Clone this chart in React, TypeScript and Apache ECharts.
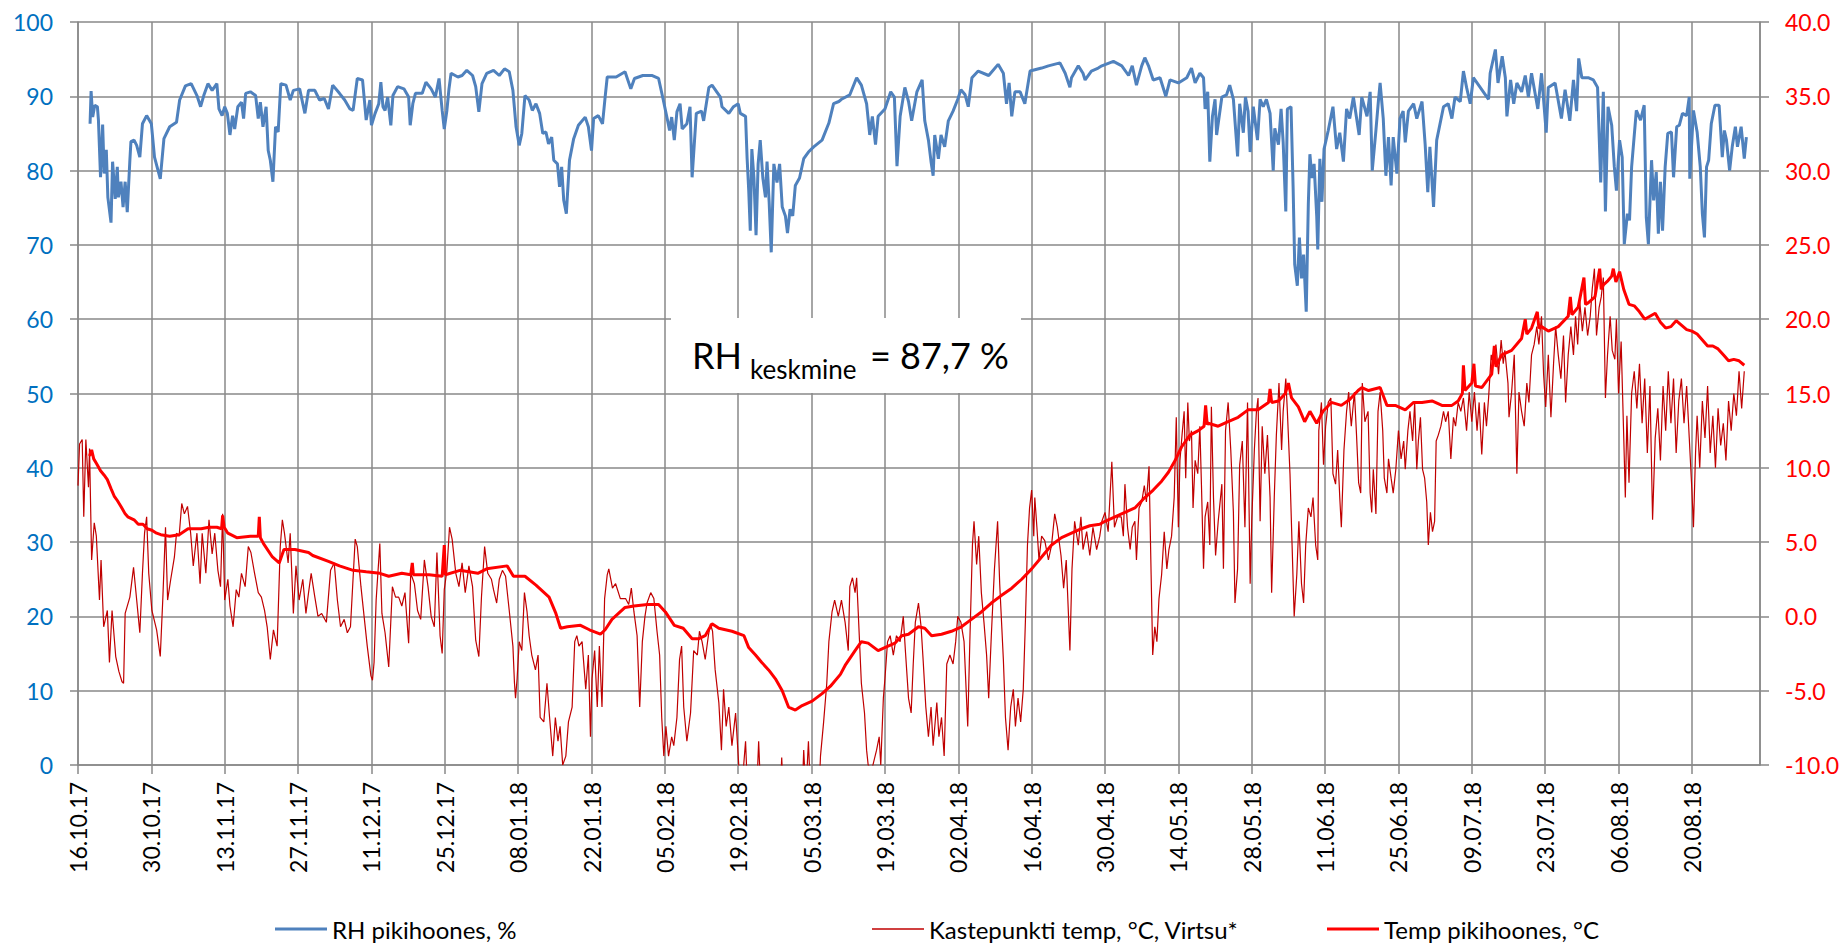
import React, { useEffect, useRef } from 'react';
import * as echarts from 'echarts';

// x values are days counted from 16.10.2017
const xTickLabels = ['16.10.17','30.10.17','13.11.17','27.11.17','11.12.17','25.12.17','08.01.18','22.01.18','05.02.18','19.02.18','05.03.18','19.03.18','02.04.18','16.04.18','30.04.18','14.05.18','28.05.18','11.06.18','25.06.18','09.07.18','23.07.18','06.08.18','20.08.18'];
const X_TICK_STEP_DAYS = 14;
const X_LAST_DAY = 321;

const rhName = 'RH pikihoones, %';
const dewName = 'Kastepunkti temp, °C, Virtsu*';
const tempName = 'Temp pikihoones, °C';

const rhData: number[][] = [
[2.3,86.3],[2.5,90.7],[2.8,87.2],[3.2,88.8],[3.7,88.6],[3.9,86.8],[4.3,79.1],[4.7,86.2],[5.0,79.6],[5.4,82.8],[5.7,76.4],[6.3,73.0],[6.6,81.2],[7.1,76.2],[7.5,80.5],[7.7,76.4],[8.2,78.5],[8.6,75.1],[9.0,78.5],[9.4,74.4],[9.9,81.4],[10.1,83.9],[10.7,84.1],[11.2,83.4],[11.8,81.8],[12.3,86.3],[13.1,87.4],[14.0,86.3],[14.6,81.8],[15.7,78.9],[16.4,84.3],[17.5,85.9],[18.8,86.5],[19.4,89.5],[20.5,91.4],[21.6,91.7],[22.7,90.1],[23.4,88.6],[24.0,90.1],[24.8,91.7],[25.6,90.8],[26.5,91.7],[26.9,88.3],[27.5,87.4],[28.0,88.6],[28.5,87.7],[29.0,84.8],[29.5,87.4],[29.9,85.6],[30.5,88.6],[31.2,89.2],[31.6,87.0],[32.0,90.4],[32.9,90.6],[33.9,90.1],[34.4,87.0],[34.8,89.2],[35.3,85.9],[35.9,88.6],[36.3,82.7],[36.7,81.4],[37.2,78.5],[37.7,85.9],[38.2,85.2],[38.7,91.7],[39.7,91.5],[40.5,89.5],[41.1,90.8],[42.3,91.0],[43.3,87.7],[44.0,90.8],[45.2,90.8],[46.1,89.5],[47.0,89.7],[47.8,88.3],[48.6,91.5],[49.9,90.4],[50.9,89.5],[51.9,88.3],[52.5,88.1],[53.3,92.4],[54.3,92.2],[55.0,86.8],[55.7,89.5],[56.0,86.1],[56.7,87.7],[57.4,89.0],[57.8,91.9],[58.2,88.6],[58.6,88.1],[59.1,89.9],[59.7,86.1],[60.1,90.1],[61.0,91.3],[62.2,91.0],[63.1,89.9],[63.4,86.1],[63.9,89.0],[64.4,90.4],[65.7,90.4],[66.4,91.9],[67.4,91.0],[68.2,89.9],[68.9,92.4],[69.5,88.1],[69.9,85.6],[70.4,88.1],[70.8,91.0],[71.2,93.1],[72.5,92.6],[73.3,92.8],[74.2,93.5],[75.3,92.8],[75.9,91.3],[76.5,87.9],[77.1,91.7],[78.0,93.1],[79.3,93.5],[80.4,92.8],[81.4,93.7],[82.3,93.3],[83.0,90.8],[83.6,85.9],[84.2,83.4],[84.7,85.0],[85.3,90.1],[86.1,89.5],[86.7,88.1],[87.4,89.0],[88.1,87.7],[88.7,85.0],[89.3,85.2],[89.8,83.6],[90.4,84.5],[90.8,81.4],[91.5,80.9],[91.9,77.8],[92.3,80.5],[92.7,76.0],[93.2,74.2],[93.8,81.4],[94.6,84.3],[95.5,86.1],[96.8,87.2],[97.4,85.9],[98.0,82.7],[98.4,87.0],[99.3,87.4],[100.1,86.3],[100.6,89.9],[101.0,92.6],[102.7,92.6],[104.4,93.3],[105.5,91.0],[106.2,92.4],[107.8,92.8],[109.5,92.8],[110.8,92.4],[111.7,89.5],[112.5,86.8],[112.9,85.4],[113.3,87.2],[113.8,84.1],[114.3,87.9],[114.9,89.0],[115.3,85.6],[116.2,86.3],[116.8,88.6],[117.2,79.1],[118.0,87.7],
[119.0,88.0],[119.4,86.7],[120.4,91.2],[121.0,91.5],[122.6,89.9],[122.9,88.6],[124.2,87.7],[125.1,88.6],[126.0,89.0],[126.4,87.7],[127.4,87.3],[127.7,81.6],[128.0,77.4],[128.3,71.9],[128.6,82.9],[129.0,79.0],[129.4,71.3],[129.8,80.9],[130.2,84.1],[130.7,79.0],[131.2,76.4],[131.5,81.2],[131.9,75.8],[132.3,69.0],[132.8,80.9],[133.4,78.4],[133.9,80.9],[134.4,75.1],[135.0,73.9],[135.4,71.6],[135.9,74.8],[136.4,73.9],[136.9,78.0],[137.7,79.0],[138.5,81.6],[139.4,82.5],[140.4,83.2],[142.0,84.1],[143.3,86.4],[144.2,89.0],[145.2,89.3],
[145.7,89.6],[147.3,90.2],[148.6,92.5],[149.5,91.5],[150.5,89.0],[151.1,84.8],[151.6,87.3],[152.2,83.5],[152.7,87.3],[154.0,88.3],[155.1,90.6],[155.8,89.9],[156.3,80.6],[156.9,87.3],[157.8,91.2],[158.5,89.3],[159.1,86.7],[160.1,90.6],[161.1,92.2],[161.6,86.7],[162.3,84.1],[162.8,81.2],[163.2,79.3],[163.5,84.8],[164.2,81.6],[164.7,84.8],[165.4,83.2],[166.1,86.7],[167.0,88.0],[167.9,89.6],[168.5,90.9],[169.3,90.2],[169.9,88.6],[170.6,92.5],[171.8,93.4],[173.8,92.8],[175.6,94.3],[176.6,93.1],[177.2,89.0],[177.7,91.8],[178.2,87.3],[178.8,90.6],[179.8,90.6],[180.7,89.0],[181.7,93.4],[183.9,93.8],[185.2,94.1],[187.4,94.5],[188.4,93.1],[189.3,91.2],[189.6,92.5],[190.9,94.1],[191.8,93.1],[192.2,92.2],[193.4,93.4],[194.7,93.8],
[195.4,94.1],[197.6,94.7],[199.2,94.1],[200.5,92.8],[201.2,94.1],[202.0,91.5],[203.0,94.1],[203.6,95.2],[204.3,94.1],[205.2,92.2],[206.5,92.5],[207.6,90.0],[208.4,92.2],[210.0,91.8],[211.6,92.5],[212.5,93.8],[213.2,91.8],[214.1,93.1],[214.8,92.5],[215.1,88.3],[215.6,90.6],[216.0,81.2],[216.5,87.3],[217.0,89.6],[217.3,84.8],[218.3,89.9],[219.2,90.2],[219.8,91.5],[220.5,89.6],[221.3,81.9],[221.7,89.0],[222.4,85.1],[222.8,89.9],[223.3,88.0],[223.7,82.5],[224.3,88.6],[225.1,84.1],[225.6,89.6],[226.2,88.6],[226.8,89.6],[227.5,87.7],[228.1,80.0],[228.4,85.7],[229.1,83.5],[229.6,88.3],[230.0,83.8],[230.5,74.5],[230.8,88.3],[231.5,88.6],[231.9,77.7],[232.2,67.4],[232.7,64.5],[233.1,71.0],[233.5,65.5],[233.9,68.7],[234.4,61.0],[234.8,75.5],[235.1,82.2],[235.5,79.0],[235.9,80.9],[236.4,73.9],[236.6,69.4],[237.0,81.6],[237.4,75.8],[237.8,82.9],[238.6,85.4],[239.5,88.6],[240.2,82.9],[240.8,85.1],[241.5,81.2],[242.1,88.3],[242.7,87.0],[243.4,89.9],
[244.5,84.8],[245.0,89.9],[246.0,87.3],[246.6,90.6],[247.0,80.0],[247.7,85.4],[248.2,89.6],[248.5,91.8],[249.1,87.0],[249.6,79.3],[250.1,84.5],[250.6,78.0],[251.0,84.5],[251.7,79.6],[252.3,87.0],[252.9,88.0],[253.3,83.8],[253.9,88.0],[254.9,89.0],[255.5,87.0],[256.5,89.3],[257.1,83.5],[257.6,77.1],[258.0,83.2],[258.7,75.1],[259.3,84.1],[260.6,88.6],[261.5,89.0],[262.2,87.0],[262.8,89.9],[263.8,89.3],[264.4,93.4],[265.0,91.2],[265.7,89.0],[266.3,92.5],[267.6,91.2],[269.2,89.6],[269.5,93.1],[270.5,96.3],[271.0,91.8],[271.8,95.4],[272.4,92.5],[272.7,87.3],[273.4,92.2],[274.0,89.0],[274.6,91.8],[275.5,90.6],[276.2,92.8],[276.8,89.9],[277.4,93.1],[278.6,88.3],[279.3,93.1],[280.2,85.1],[280.6,91.2],[281.9,91.8],[283.1,87.0],[283.8,90.9],[284.7,86.7],[285.4,92.2],[286.0,88.0],[286.4,95.1],[287.0,92.5],[288.2,92.5],[289.2,92.2],[290.0,91.2],[290.6,78.4],[291.1,90.6],[291.5,74.5],[292.0,88.6],[292.7,86.1],
[293.2,80.5],[293.6,77.3],[294.2,84.1],[294.7,81.8],[295.1,70.1],[295.7,74.2],[296.1,73.3],[296.5,80.5],[297.4,88.1],[298.2,86.8],[298.9,88.8],[299.3,73.7],[299.7,70.1],[300.3,81.4],[300.7,76.0],[301.2,79.8],[301.6,71.5],[302.0,78.5],[302.4,71.9],[302.9,80.5],[303.4,85.0],[304.1,85.2],[304.5,79.1],[305.1,85.9],[305.6,86.1],[306.2,87.7],[307.0,87.4],[307.5,89.9],[307.6,78.9],[308.3,88.1],[309.0,85.2],[309.6,80.5],[310.0,74.2],[310.4,71.0],[310.8,80.5],[311.2,81.4],[311.7,86.3],[312.4,88.8],[313.2,88.8],[313.8,81.8],[314.2,85.4],[314.6,84.1],[315.2,80.0],[315.7,83.2],[316.3,85.9],[316.7,83.2],[317.4,85.9],[318.0,81.6],[318.4,84.5]
];

const dewData: number[][] = [
[0.0,8.8],[0.3,11.6],[0.8,11.9],[1.1,6.7],[1.5,11.9],[2.0,8.7],[2.2,11.3],[2.6,3.8],[3.1,6.3],[3.5,5.4],[4.1,1.1],[4.4,3.8],[4.9,-0.7],[5.6,0.4],[6.0,-3.1],[6.5,0.4],[7.2,-2.7],[7.8,-3.7],[8.4,-4.4],[8.7,-4.5],[9.0,0.2],[9.9,1.3],[10.6,3.3],[11.2,1.1],[11.8,-1.1],[12.3,2.9],[12.7,5.6],[13.1,6.7],[13.5,2.9],[14.1,0.4],[15.0,-0.9],[15.7,-2.7],[16.2,1.3],[16.7,6.0],[17.1,1.1],[17.7,2.5],[18.4,4.0],[18.8,5.6],[19.3,5.4],[19.8,7.6],[20.3,6.9],[20.9,7.4],[21.5,5.6],[22.0,3.4],[22.7,5.6],[23.3,2.2],[23.7,5.6],[24.4,2.9],[25.0,6.5],[25.6,4.2],[26.1,5.6],[26.7,3.1],[27.2,2.0],[27.6,6.9],[28.0,1.1],[28.6,2.5],[29.0,0.7],[29.6,-0.7],[30.2,1.8],[30.7,1.3],[31.2,2.9],[31.9,2.0],[32.5,4.7],[33.0,4.3],[33.7,2.9],[34.4,1.6],[35.0,1.3],[35.6,0.4],[36.1,-0.7],[36.7,-2.9],[37.3,-0.9],[38.0,-2.0],[38.6,4.7],[39.0,6.5],[39.4,5.6],[40.1,3.6],[40.5,5.6],[41.1,0.2],[41.6,3.4],[42.2,1.1],[42.9,2.5],[43.5,0.2],[44.0,1.6],[44.5,2.9],[45.2,1.3],[45.8,0.0],[46.5,0.2],[47.4,-0.4],[48.2,3.1],[48.9,3.6],[49.5,1.1],[50.1,-0.7],[50.8,-0.2],[51.4,-1.1],[52.0,-0.7],[52.9,5.2],[53.3,4.7],[54.0,2.0],[54.6,0.0],[55.2,-2.0],[55.9,-4.0],[56.2,-4.3],[56.5,-3.1],[56.9,1.1],[57.6,4.9],[58.0,0.2],[58.6,-1.1],[59.3,-3.4],[60.0,2.0],[60.6,1.3],[61.2,1.3],[61.8,0.7],[62.4,1.6],[63.1,-1.8],[63.5,2.9],[64.2,2.2],[64.8,0.4],[65.4,-0.2],[66.1,3.8],[66.8,2.0],[67.4,0.0],[68.0,-0.7],[68.5,4.3],[69.1,-1.3],[69.5,-2.5],[69.9,1.8],[70.4,3.1],[70.9,6.0],[71.4,5.2],[72.1,2.9],[72.7,2.0],[73.3,3.6],[73.9,1.6],[74.6,3.4],[75.3,2.0],[75.9,-1.6],[76.5,-2.7],[77.0,1.3],[77.6,4.7],[78.2,2.9],[78.9,2.5],[79.3,1.8],[79.9,0.9],[80.4,2.5],[81.0,3.1],[81.6,2.7],[82.3,0.4],[83.0,-2.0],[83.3,-4.5],[83.5,-5.5],[83.8,-4.2],[84.2,-1.7],[84.7,-2.3],[85.2,1.6],[85.7,0.3],[86.1,-1.3],[86.6,-2.6],[87.3,-3.6],[87.8,-2.6],[88.2,-6.8],[88.9,-7.1],[89.5,-4.5],[90.0,-6.8],[90.6,-9.4],[91.1,-6.8],[91.6,-8.4],[92.0,-7.4],[92.5,-10.0],[93.1,-9.4],[93.6,-7.1],[94.3,-6.1],[94.8,-1.7],[95.2,-1.3],[95.6,-2.0],[96.2,-1.7],[96.9,-4.9],[97.4,-2.6],[97.8,-8.1],[98.1,-4.2],[98.6,-2.3],[99.1,-6.1],[99.5,-2.0],[100.0,-6.1],[100.5,1.2],[101.0,2.8],[101.3,3.2],[102.0,1.9],[102.6,2.2],[103.5,1.2],[104.5,1.2],[105.1,0.8],[105.6,1.9],[106.1,0.3],[106.7,-1.3],[107.2,-6.1],[107.7,-1.7],[108.2,0.0],[108.6,0.9],[109.3,1.6],[109.9,1.2],[110.5,-1.0],[111.0,-2.6],[111.4,-6.8],[111.8,-9.4],[112.2,-7.4],[112.7,-9.4],[113.3,-8.1],[113.7,-8.7],[114.3,-6.8],[114.8,-2.9],[115.2,-2.0],[115.6,-6.1],[116.2,-8.4],[116.9,-6.5],[117.5,-2.3],[118.2,-2.6],[118.6,-1.0],[119.1,-1.7],[119.7,-2.9],[120.3,-1.3],[120.7,-0.5],[121.1,-1.0],[121.6,-3.6],[122.3,-5.8],[122.8,-9.0],[123.2,-4.9],[123.7,-7.4],[124.2,-6.1],[124.8,-8.7],[125.5,-6.5],[126.1,-10.0],[126.6,-12],[127.4,-8.4],[127.8,-12],[129.5,-12],[129.9,-8.4],[130.3,-12],[134.0,-12],[134.3,-9.5],[134.6,-12],[138.2,-12],[138.5,-9.0],[138.9,-12],[139.4,-8.4],[139.8,-12],[141.4,-12],[141.7,-9.4],[142.3,-7.1],[142.9,-4.5],[143.3,-1.7],[143.9,0.3],[144.4,1.1],[145.1,0.0],[145.7,1.1],[146.4,-0.4],[147.0,-2.3],[147.3,2.0],[147.8,2.6],[148.3,1.6],[148.6,2.6],[148.9,0.3],[149.5,-4.5],[150.1,-6.5],[150.5,-9.0],[150.8,-10.0],[151.5,-10.3],[152.4,-9.0],[152.9,-8.1],[153.2,-10.0],[153.7,-5.5],[154.0,-4.2],[154.5,-1.7],[155.0,-1.3],[155.6,-2.6],[156.2,-1.3],[156.9,-1.7],[157.5,0.0],[157.9,-2.3],[158.5,-5.5],[159.0,-6.5],[159.4,-3.2],[159.8,-0.4],[160.4,0.9],[160.9,-0.7],[161.3,-3.0],[161.8,-6.1],[162.3,-8.1],[162.8,-6.1],[163.2,-8.7],[163.9,-5.8],[164.3,-8.1],[164.8,-6.8],[165.3,-9.4],[165.8,-3.2],[166.4,-2.6],[167.0,-3.2],[167.5,-1.7],[167.9,0.0],[168.5,-0.4],[169.1,-1.7],[169.8,-7.4],[170.2,-1.7],[170.7,4.8],[171.0,6.4],[171.5,3.5],[171.9,5.4],[172.4,1.6],[172.9,-0.4],[173.4,-2.6],[173.8,-5.5],[174.3,-1.3],[174.9,3.2],[175.5,6.4],[175.9,2.2],[176.6,-2.9],[177.0,-6.8],[177.5,-9.0],[178.0,-6.1],[178.5,-4.9],[178.9,-7.4],[179.4,-5.5],[179.9,-7.1],[180.4,-4.9],[180.8,-0.4],[181.2,4.8],[181.6,7.3],[182.0,8.5],[182.4,5.4],[182.6,8.0],[183.0,6.0],[183.4,3.8],[183.9,5.4],[184.5,5.1],[185.2,3.8],[185.8,4.8],[186.4,6.9],[186.9,6.0],[187.6,4.1],[188.1,1.9],[188.6,3.8],[189.3,-2.3],[189.7,3.2],[190.2,6.4],[190.9,4.8],[191.4,6.7],[191.8,4.5],[192.5,5.7],[193.1,4.1],[193.7,6.0],[194.4,4.5],[195.0,5.4],[195.4,6.4],[196.0,7.0],[196.6,5.7],[197.3,10.4],[197.8,6.0],[198.4,6.7],[199.1,6.7],[199.5,5.4],[199.8,8.9],[200.3,6.0],[200.8,4.5],[201.2,6.0],[201.7,6.4],[202.0,3.8],[202.5,7.3],[203.0,7.7],[203.5,8.8],[203.9,7.7],[204.4,10.1],[204.8,2.8],[205.1,-2.6],[205.5,-0.7],[205.9,-1.7],[206.3,1.2],[206.8,2.8],[207.3,5.7],[207.8,3.2],[208.2,4.5],[208.7,5.4],[209.2,8.0],[209.6,13.4],[210.0,6.0],[210.3,10.5],[210.7,12.2],[211.1,13.8],[211.4,9.3],[211.8,14.4],[212.1,11.8],[212.5,12.5],[212.8,7.3],[213.2,10.5],[213.7,9.6],[214.1,12.8],[214.4,8.9],[214.8,3.2],[215.1,6.7],[215.6,7.7],[216.0,4.8],[216.3,14.1],[216.7,8.0],[217.1,4.1],[217.6,6.4],[218.3,8.9],[218.6,3.2],[219.0,12.5],[219.5,14.4],[220.0,11.2],[220.5,7.0],[220.8,0.9],[221.3,3.2],[221.7,10.2],[222.2,11.8],[222.7,6.0],[223.2,14.4],[223.7,2.2],[224.0,6.4],[224.5,11.2],[224.9,13.8],[225.2,14.7],[225.6,6.4],[226.0,12.8],[226.5,9.6],[227.0,12.2],[227.5,8.0],[227.8,1.6],[228.3,8.0],[228.7,12.2],[229.2,15.7],[229.7,11.2],[230.0,13.8],[230.5,16.0],[230.8,13.8],[231.3,9.6],[231.7,4.8],[232.1,0.0],[232.6,2.8],[233.0,6.4],[233.5,2.2],[233.9,0.9],[234.3,4.8],[234.8,7.3],[235.3,6.7],[235.7,8.0],[236.2,4.8],[236.6,3.8],[236.8,12.5],[237.3,14.4],[237.7,10.2],[238.1,12.8],[238.6,14.4],[239.1,14.7],[239.5,9.6],[240.0,8.9],[240.4,11.2],[240.8,8.0],[241.1,6.0],[241.6,11.2],[242.1,13.8],[242.5,15.1],[243.0,12.8],[243.6,15.1],[244.0,12.2],[244.4,9.0],[244.8,8.3],[245.1,15.7],[245.6,13.1],[246.2,13.8],[246.6,8.3],[246.9,7.0],[247.2,9.9],[247.7,6.9],[248.1,13.8],[248.5,15.1],[249.0,12.5],[249.3,9.3],[249.8,8.3],[250.1,10.6],[250.6,9.3],[251.0,8.3],[251.5,9.9],[252.0,12.5],[252.5,10.6],[253.0,11.8],[253.3,9.9],[253.8,12.5],[254.2,13.8],[254.7,11.8],[255.1,14.4],[255.5,9.9],[255.8,11.8],[256.2,13.4],[256.6,9.9],[257.0,9.3],[257.4,7.7],[257.7,4.8],[258.1,7.0],[258.5,5.7],[258.9,6.4],[259.2,11.8],[259.6,12.2],[260.1,12.8],[260.6,13.8],[261.0,13.1],[261.5,13.8],[262.0,10.6],[262.5,13.4],[262.9,12.8],[263.4,14.4],[263.9,13.8],[264.4,14.7],[265.0,12.5],[265.5,15.1],[266.0,13.1],[266.5,15.1],[267.0,12.5],[267.4,14.4],[267.9,10.9],[268.4,14.4],[268.8,12.8],[269.2,14.7],[269.7,17.6],[270.1,17.0],[270.6,18.3],[271.1,16.3],[271.6,18.6],[272.0,17.0],[272.3,17.9],[272.9,15.7],[273.1,13.4],[273.6,15.1],[274.1,17.6],[274.6,9.6],[275.0,15.1],[275.5,13.8],[276.0,12.8],[276.5,15.7],[276.9,14.4],[277.4,17.6],[277.9,18.3],[278.4,19.5],[278.8,18.3],[279.3,20.2],[279.7,16.3],[280.1,14.1],[280.6,17.6],[281.1,13.4],[281.6,17.0],[282.0,19.5],[282.5,17.6],[283.0,16.0],[283.5,18.9],[283.9,14.4],[284.4,17.6],[284.9,19.5],[285.4,17.6],[285.8,20.2],[286.2,18.3],[286.6,21.2],[287.1,19.2],[287.6,20.8],[288.1,18.9],[288.6,20.2],[289.0,22.1],[289.4,23.4],[289.8,18.9],[290.3,20.8],[290.7,21.5],[291.1,22.8],[291.5,14.7],[291.9,17.6],[292.4,20.2],[292.8,17.9],[293.3,17.3],
[293.6,20.0],[294.0,15.0],[294.5,18.5],[295.0,12.0],[295.3,8.0],[295.6,13.5],[296.0,9.0],[296.5,15.0],[297.0,16.5],[297.5,14.0],[298.0,17.0],[298.5,13.0],[299.0,16.0],[299.5,11.0],[300.0,15.5],[300.5,6.5],[301.0,12.0],[301.5,14.0],[302.0,10.5],[302.5,15.5],[303.0,12.5],[303.5,16.5],[304.0,13.0],[304.5,16.0],[305.0,11.0],[305.5,14.5],[306.0,16.0],[306.5,13.0],[307.0,15.5],[307.5,12.0],[308.0,8.5],[308.3,6.0],[308.7,11.0],[309.0,13.5],[309.5,10.0],[310.0,14.5],[310.5,12.0],[311.0,15.5],[311.5,11.0],[312.0,13.5],[312.5,10.0],[313.0,14.0],[313.5,11.5],[314.0,13.0],[314.5,10.5],[315.0,14.5],[315.5,12.5],[316.0,15.0],[316.5,13.5],[317.0,16.5],[317.5,14.0],[318.0,16.5]
];

const tempData: number[][] = [
[2.2,10.8],[2.6,11.2],[3.0,10.6],[3.5,10.3],[4.3,9.8],[5.0,9.5],[5.6,9.2],[6.3,8.6],[6.9,8.1],[7.5,7.8],[8.2,7.4],[9.0,6.9],[9.5,6.7],[10.7,6.5],[11.5,6.2],[12.4,6.2],[13.2,5.9],[14.1,5.8],[15.0,5.6],[15.8,5.5],[17.5,5.4],[19.3,5.5],[21.0,5.9],[22.5,5.9],[23.5,5.9],[25.0,6.0],[26.5,6.0],[27.4,5.9],[27.6,6.8],[27.9,6.0],[28.6,5.6],[30.3,5.3],[32.9,5.4],[34.4,5.4],[34.6,6.7],[34.8,5.3],[35.4,4.9],[37.1,4.0],[38.4,3.6],[39.3,4.5],[41.4,4.5],[44.0,4.3],[44.8,4.1],[47.8,3.7],[49.9,3.4],[52.5,3.1],[55.0,3.0],[57.6,2.9],[59.3,2.7],[61.8,2.9],[63.5,2.8],[63.8,3.6],[64.0,2.8],[67.0,2.8],[69.5,2.7],[69.9,4.8],[70.1,2.8],[72.9,3.1],[76.3,2.9],[78.0,3.2],[81.9,3.4],[83.1,2.7],[85.3,2.7],[87.4,2.1],[89.9,1.3],[91.2,0.2],[92.1,-0.8],[93.4,-0.7],[95.9,-0.6],[97.6,-0.9],[99.7,-1.2],[100.6,-0.9],[101.9,-0.2],[104.4,0.6],[106.1,0.7],[108.7,0.8],[110.8,0.8],[112.1,0.3],[113.8,-0.6],[115.5,-0.8],[117.2,-1.5],[118.5,-1.5],[119.7,-1.3],[121.0,-0.5],[122.3,-0.8],[124.8,-1.0],[127.1,-1.3],[128.0,-2.1],[129.3,-2.6],[130.5,-3.1],[131.8,-3.6],[133.1,-4.2],[134.4,-5.0],[135.6,-6.1],[136.9,-6.3],[138.2,-6.0],[140.1,-5.7],[142.0,-5.2],[143.6,-4.7],[145.5,-3.9],[146.4,-3.3],[148.3,-2.3],[149.5,-1.7],[150.8,-1.8],[152.7,-2.3],[154.6,-2.0],[155.9,-1.8],[157.2,-1.3],[158.5,-1.2],[160.4,-0.7],[161.6,-0.8],[162.9,-1.3],[164.8,-1.2],[166.7,-1.0],[168.6,-0.7],[170.5,-0.2],[172.4,0.3],[174.3,0.9],[176.2,1.4],[178.2,1.9],[180.1,2.5],[182.0,3.2],[183.9,4.0],[185.8,4.8],[187.7,5.3],[189.6,5.6],[191.5,5.9],[193.1,6.1],[195.0,6.2],[196.0,6.4],[197.9,6.7],[199.8,7.0],[201.7,7.3],[203.6,8.0],[205.2,8.5],[206.8,9.1],[208.1,9.7],[209.4,10.5],[210.6,11.4],[212.2,12.2],[213.8,12.5],[214.9,12.8],[215.2,14.2],[215.5,12.9],[215.7,13.0],[217.6,12.8],[219.5,13.1],[221.4,13.4],[223.3,13.9],[225.2,13.9],[227.2,14.4],[227.5,15.3],[227.8,14.4],[229.1,14.5],[230.4,15.0],[231.0,15.7],[231.6,14.7],[232.9,14.1],[234.1,13.1],[235.1,13.8],[236.4,13.0],[237.6,13.8],[239.2,14.4],[241.1,14.2],[242.7,14.6],[244.3,15.2],[245.0,15.4],[246.3,15.2],[248.5,15.4],[249.8,14.2],[251.4,14.2],[253.3,13.9],[254.9,14.4],[256.5,14.4],[258.4,14.5],[260.3,14.2],[262.2,14.2],[263.4,14.5],[264.2,15.0],[264.4,16.9],[264.7,15.2],[266.0,15.7],[266.4,17.0],[266.7,15.5],[267.9,15.4],[269.8,16.3],[270.3,18.2],[270.6,16.8],[271.7,17.6],[273.6,17.9],[275.5,18.7],[276.2,20.0],[276.5,19.0],[277.4,19.4],[278.5,20.5],[278.8,19.4],[279.3,19.5],[280.6,19.2],[282.5,19.5],[284.4,20.2],[284.8,21.5],[285.1,20.3],[286.3,20.8],[287.4,22.8],[287.7,21.0],[288.2,21.1],[289.5,21.5],[290.4,23.4],[290.7,22.0],[291.1,22.3],[292.0,22.6],[292.7,22.9],[293.0,23.4],[293.5,22.5],[294.2,23.2],[295.0,22.0],[296.0,21.0],[297.0,20.9],[298.0,20.5],[299.0,20.0],[300.0,20.2],[301.0,20.4],[302.0,19.8],[303.0,19.4],[304.0,19.5],[305.0,19.9],[306.0,19.6],[307.0,19.3],[308.0,19.2],[309.0,19.0],[310.0,18.6],[311.0,18.2],[312.0,18.2],[313.0,18.0],[314.0,17.6],[315.0,17.2],[316.0,17.3],[317.0,17.2],[318.0,16.9]
];

const FONT = 'Lato, "Open Sans", sans-serif';
const GRID_COLOR = '#898989';
const RH_COLOR = '#4F81BD';
const DEW_COLOR = '#C00000';
const TEMP_COLOR = '#FF0000';

export default function App() {
  const ref = useRef<HTMLDivElement>(null);
  useEffect(() => {
    document.body.style.margin = '0';
    if (!ref.current) return;
    const chart = echarts.init(ref.current, undefined, { renderer: 'svg' });
    const gridLine = { color: GRID_COLOR, width: 1.5 };
    const legendText = { fontSize: 24, color: '#000', fontFamily: FONT };
    const option: any = {
      animation: false,
      backgroundColor: '#ffffff',
      textStyle: { fontFamily: FONT },
      grid: { left: 78, right: 83, top: 22, bottom: 179, containLabel: false },
      xAxis: {
        type: 'value', min: 0, max: X_LAST_DAY, interval: X_TICK_STEP_DAYS,
        axisLine: { show: true, onZero: false, lineStyle: gridLine },
        axisTick: { show: true, length: 9, lineStyle: gridLine },
        splitLine: { show: true, lineStyle: gridLine },
        axisLabel: {
          rotate: 90, margin: 17, fontSize: 23, color: '#000', fontFamily: FONT,
          showMaxLabel: false,
          formatter: (v: number) => {
            const i = Math.round(v / X_TICK_STEP_DAYS);
            return Math.abs(v - i * X_TICK_STEP_DAYS) < 1e-6 && i < xTickLabels.length ? xTickLabels[i] : '';
          },
        },
      },
      yAxis: [
        {
          type: 'value', position: 'left', min: 0, max: 100, interval: 10,
          axisLine: { show: true, lineStyle: gridLine },
          axisTick: { show: true, length: 8, lineStyle: gridLine },
          splitLine: { show: true, lineStyle: gridLine },
          axisLabel: { color: '#0070C0', fontSize: 23, margin: 25, fontFamily: FONT },
        },
        {
          type: 'value', position: 'right', min: -10, max: 40, interval: 5,
          axisLine: { show: true, lineStyle: gridLine },
          axisTick: { show: true, length: 9, lineStyle: gridLine },
          splitLine: { show: false },
          axisLabel: { color: '#FF0000', fontSize: 23, margin: 25, fontFamily: FONT, formatter: (v: number) => v.toFixed(1) },
        },
      ],
      legend: [
        { data: [{ name: rhName, icon: 'rect' }], left: 275, top: 917, padding: 0, itemWidth: 52, itemHeight: 3, itemGap: 0, textStyle: legendText },
        { data: [{ name: dewName, icon: 'rect' }], left: 872, top: 917, padding: 0, itemWidth: 52, itemHeight: 1.3, itemGap: 0, textStyle: legendText },
        { data: [{ name: tempName, icon: 'rect' }], left: 1327, top: 917, padding: 0, itemWidth: 52, itemHeight: 3, itemGap: 0, textStyle: legendText },
      ],
      series: [
        { name: rhName, type: 'line', yAxisIndex: 0, data: rhData, symbol: 'none', showSymbol: false, clip: true,
          lineStyle: { color: RH_COLOR, width: 3 }, itemStyle: { color: RH_COLOR } },
        { name: dewName, type: 'line', yAxisIndex: 1, data: dewData, symbol: 'none', showSymbol: false, clip: true,
          lineStyle: { color: DEW_COLOR, width: 1.2 }, itemStyle: { color: DEW_COLOR } },
        { name: tempName, type: 'line', yAxisIndex: 1, data: tempData, symbol: 'none', showSymbol: false, clip: true,
          lineStyle: { color: TEMP_COLOR, width: 3 }, itemStyle: { color: TEMP_COLOR } },
      ],
      graphic: [
        { type: 'rect', z: 100, shape: { x: 671, y: 318, width: 350, height: 75 }, style: { fill: '#ffffff' } },
        { type: 'text', z: 101, x: 692, y: 354.5, style: { text: 'RH', fontSize: 36, fontFamily: FONT, fill: '#000', verticalAlign: 'middle', align: 'left' } },
        { type: 'text', z: 101, x: 750, y: 369, style: { text: 'keskmine', fontSize: 26, fontFamily: FONT, fill: '#000', verticalAlign: 'middle', align: 'left' } },
        { type: 'text', z: 101, x: 870, y: 354.5, style: { text: '= 87,7 %', fontSize: 36, fontFamily: FONT, fill: '#000', verticalAlign: 'middle', align: 'left' } },
      ],
    };
    chart.setOption(option);
    return () => chart.dispose();
  }, []);
  return <div ref={ref} style={{ width: 1843, height: 944 }} />;
}
